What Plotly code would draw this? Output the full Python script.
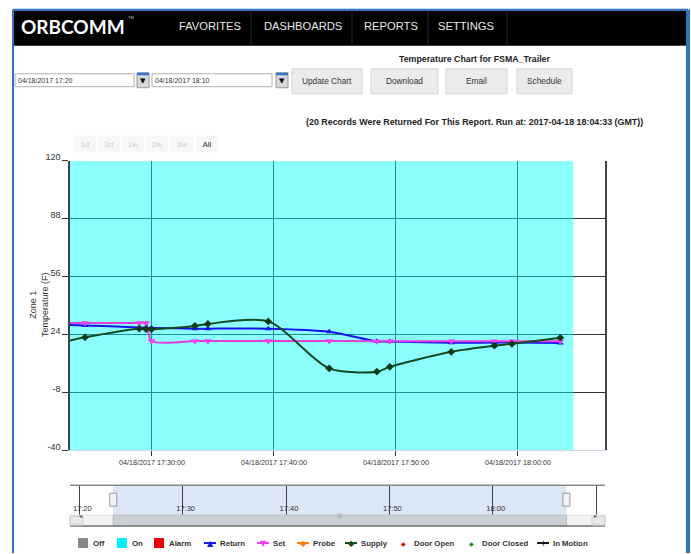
import plotly.graph_objects as go

W, H = 691, 554
# The photographed page is drawn 8 px lower and squeezed to 546 px tall;
# positions below are page pixels of the reference, mapped through this.
Y0, KY = 8, 546 / 554

# ---------------- data ----------------
times = ["2017-04-18 17:20:30", "2017-04-18 17:24:31", "2017-04-18 17:28:58",
         "2017-04-18 17:29:31", "2017-04-18 17:29:58", "2017-04-18 17:33:31",
         "2017-04-18 17:34:35", "2017-04-18 17:39:32", "2017-04-18 17:44:32",
         "2017-04-18 17:48:26", "2017-04-18 17:49:30", "2017-04-18 17:54:32",
         "2017-04-18 17:58:04", "2017-04-18 17:59:30", "2017-04-18 18:03:28"]
return_temp = [29.6, 29.1, 27.9, 27.8, 27.7, 27.3, 27.3, 27.3, 25.6, 20.3, 20.2, 19.5, 19.6, 19.6, 19.4]
set_temp = [30.4, 30.4, 30.4, 30.4, 20.5, 20.5, 20.5, 20.5, 20.5, 20.3, 20.3, 20.3, 20.3, 20.3, 20.3]
supply_temp = [16.5, 22.5, 27.3, 27.1, 26.9, 28.8, 29.9, 31.3, 5.3, 3.5, 6.2, 14.5, 17.9, 18.9, 22.3]

on_period = ["2017-04-18 17:20:30", "2017-04-18 18:04:33"]
view_range = ["2017-04-18 17:23:17", "2017-04-18 18:07:08"]
nav_range = ["2017-04-18 17:19:06", "2017-04-18 18:10:52"]
y_ticks = [-40, -8, 24, 56, 88, 120]
y_range = [-40, 120]

nav_items = ["FAVORITES", "DASHBOARDS", "REPORTS", "SETTINGS"]
button_labels = ["Update Chart", "Download", "Email", "Schedule"]
date_inputs = ["04/18/2017 17:20", "04/18/2017 18:10"]
range_buttons = ["1d", "2d", "1w", "2w", "3w", "All"]
legend_labels = ["Off", "On", "Alarm", "Return", "Set", "Probe", "Supply",
                 "Door Open", "Door Closed", "In Motion"]

chart_title = "Temperature Chart for FSMA_Trailer"
subtitle = "(20 Records Were Returned For This Report. Run at: 2017-04-18 18:04:33 (GMT))"

# ---------------- helpers ----------------
def px(x):
    return x / W

def py(y):
    return 1 - max(0.0, (y - Y0) / KY) / H

FONT = "Liberation Sans, Arial, sans-serif"

fig = go.Figure()

# "On" status band
fig.add_trace(go.Scatter(x=[on_period[0], on_period[1], on_period[1], on_period[0]],
                         y=[y_range[0], y_range[0], y_range[1], y_range[1]],
                         mode="none", fill="toself", fillcolor="rgba(0,255,255,0.45)",
                         name="On", hoverinfo="skip"))

fig.add_trace(go.Scatter(x=times, y=return_temp, name="Return", mode="lines+markers",
                         line=dict(color="#1414f0", width=2, shape="spline", smoothing=0.8),
                         marker=dict(symbol="triangle-up", size=6, color="#1414f0")))
fig.add_trace(go.Scatter(x=times, y=set_temp, name="Set", mode="lines+markers",
                         line=dict(color="#e03ee0", width=2, shape="spline", smoothing=0.8),
                         marker=dict(symbol="triangle-down", size=7, color="#f040f0")))
fig.add_trace(go.Scatter(x=times, y=supply_temp, name="Supply", mode="lines+markers",
                         line=dict(color="#134a22", width=2, shape="spline", smoothing=0.8),
                         marker=dict(symbol="diamond", size=6, color="#0d3a18")))

shapes = []
ann = []

# ---------------- page chrome ----------------
shapes.append(dict(type="rect", xref="paper", yref="paper", x0=px(14), x1=px(686),
                   y0=py(45), y1=py(9.5), fillcolor="#000", line=dict(width=0), layer="below"))
for xd in [251, 352, 428, 507]:
    shapes.append(dict(type="line", xref="paper", yref="paper", x0=px(xd), x1=px(xd),
                       y0=py(45), y1=py(9.5), line=dict(color="#2a2a2a", width=1)))
# blue window border
shapes.append(dict(type="line", xref="paper", yref="paper", x0=px(13), x1=px(13),
                   y0=0, y1=py(8.5), line=dict(color="#2f72c0", width=2)))
shapes.append(dict(type="line", xref="paper", yref="paper", x0=px(13), x1=px(688),
                   y0=py(8.8), y1=py(8.8), line=dict(color="#2f72c0", width=2)))
shapes.append(dict(type="line", xref="paper", yref="paper", x0=px(688), x1=px(688),
                   y0=0, y1=py(8.5), line=dict(color="#2f72c0", width=4)))

ann.append(dict(x=px(19), y=py(25.5), xref="paper", yref="paper", text="<b>ORBCOMM</b>",
                showarrow=False, xanchor="left", yanchor="middle",
                font=dict(family="Lato, Open Sans, sans-serif", size=19, color="#fff")))
ann.append(dict(x=px(126), y=py(17), xref="paper", yref="paper", text="TM",
                showarrow=False, xanchor="left", yanchor="middle",
                font=dict(family=FONT, size=4, color="#ccc")))
for label, cx in zip(nav_items, [210, 303, 391, 466]):
    ann.append(dict(x=px(cx), y=py(25.5), xref="paper", yref="paper", text=label,
                    showarrow=False, xanchor="center", yanchor="middle",
                    font=dict(family=FONT, size=11.2, color="#e8e8e8")))

ann.append(dict(x=px(474), y=py(58), xref="paper", yref="paper", text="<b>" + chart_title + "</b>",
                showarrow=False, xanchor="center", yanchor="middle",
                font=dict(family=FONT, size=8.8, color="#222")))

# date inputs
for label, (x0, x1), ix in zip(date_inputs, [(15, 134), (152, 272)], [137, 276]):
    shapes.append(dict(type="rect", xref="paper", yref="paper", x0=px(x0), x1=px(x1),
                       y0=py(86), y1=py(73), fillcolor="#fff", line=dict(color="#b0b0b0", width=1)))
    ann.append(dict(x=px(x0 + 1), y=py(79.5), xref="paper", yref="paper", text=label,
                    showarrow=False, xanchor="left", yanchor="middle",
                    font=dict(family=FONT, size=7, color="#333")))
    shapes.append(dict(type="rect", xref="paper", yref="paper", x0=px(ix), x1=px(ix + 12),
                       y0=py(87), y1=py(72), fillcolor="#d8d8d8", line=dict(color="#999", width=1)))
    shapes.append(dict(type="rect", xref="paper", yref="paper", x0=px(ix), x1=px(ix + 12),
                       y0=py(74.5), y1=py(72), fillcolor="#3a72d0", line=dict(width=0)))
    ann.append(dict(x=px(ix + 6), y=py(80.5), xref="paper", yref="paper", text="▼",
                    showarrow=False, xanchor="center", yanchor="middle",
                    font=dict(family="DejaVu Sans", size=7, color="#000")))

# buttons
for label, (x0, x1) in zip(button_labels, [(292, 362), (371, 438), (446, 507), (517, 572)]):
    shapes.append(dict(type="rect", xref="paper", yref="paper", x0=px(x0), x1=px(x1),
                       y0=py(93), y1=py(68), fillcolor="#ebebeb", line=dict(color="#d4d4d4", width=1)))
    ann.append(dict(x=px((x0 + x1) / 2), y=py(80.5), xref="paper", yref="paper", text=label,
                    showarrow=False, xanchor="center", yanchor="middle",
                    font=dict(family=FONT, size=8.3, color="#333")))

ann.append(dict(x=px(474), y=py(121), xref="paper", yref="paper", text="<b>" + subtitle + "</b>",
                showarrow=False, xanchor="center", yanchor="middle",
                font=dict(family=FONT, size=8.9, color="#222")))

# range selector buttons
for label, cx in zip(range_buttons, [85, 109, 133, 157, 182, 207]):
    ann.append(dict(x=px(cx), y=py(143), xref="paper", yref="paper", text=label,
                    showarrow=False, xanchor="center", yanchor="middle",
                    width=20, height=14, bgcolor="#f7f7f7",
                    font=dict(family=FONT, size=8,
                              color="#333" if label == "All" else "#cccccc")))

# y axis title
ann.append(dict(x=px(39), y=py(305), xref="paper", yref="paper",
                text="Zone 1<br>Temperature (F)", textangle=-90, showarrow=False,
                xanchor="center", yanchor="middle",
                font=dict(family=FONT, size=9, color="#333")))

# ---------------- navigator ----------------
nav_top, nav_bot, sb_bot = 486, 516, 527
shapes.append(dict(type="rect", xref="x2", yref="paper", x0=view_range[0], x1=view_range[1],
                   y0=py(nav_bot), y1=py(nav_top), fillcolor="#dbe6f6",
                   line=dict(width=0), layer="below"))
shapes.append(dict(type="line", xref="x2 domain", yref="paper", x0=0, x1=1,
                   y0=py(nav_top), y1=py(nav_top), line=dict(color="#888", width=1.5)))
shapes.append(dict(type="rect", xref="x2 domain", yref="paper", x0=0, x1=1,
                   y0=py(sb_bot), y1=py(nav_bot), fillcolor="#f2f2f2", line=dict(color="#e0e0e0", width=1)))
shapes.append(dict(type="rect", xref="x2", yref="paper", x0=view_range[0], x1=view_range[1],
                   y0=py(sb_bot), y1=py(nav_bot), fillcolor="#cbd0d6", line=dict(color="#b8bcc2", width=1)))
shapes.append(dict(type="line", xref="x2 domain", yref="paper", x0=0, x1=1,
                   y0=py(sb_bot), y1=py(sb_bot), line=dict(color="#777", width=1.5)))
for xa, sgn in [(0, 1), (1, -1)]:
    shapes.append(dict(type="rect", xref="x2 domain", yref="paper", xsizemode="pixel", xanchor=xa,
                       x0=0, x1=13 * sgn, y0=py(sb_bot - 1), y1=py(nav_bot + 1),
                       fillcolor="#e8e8e8", line=dict(color="#ccc", width=1)))
    ann.append(dict(x=xa, xref="x2 domain", y=py(521.5), yref="paper",
                    xshift=6.5 * sgn, text="◂" if sgn == 1 else "▸", showarrow=False,
                    font=dict(family="DejaVu Sans", size=6, color="#555")))
ann.append(dict(x=px((113 + 565) / 2), xref="paper", y=py(521.5), yref="paper", text="|||",
                showarrow=False, font=dict(family="DejaVu Sans", size=5, color="#888")))
for xv in view_range:
    shapes.append(dict(type="rect", xref="x2", yref="paper", xsizemode="pixel", xanchor=xv,
                       x0=-3.5, x1=3.5, y0=py(507), y1=py(494),
                       fillcolor="#f2f2f2", line=dict(color="#999", width=1)))

# ---------------- legend (drawn) ----------------
leg_y = 544
sq_items = {"Off": ("#888888", 78), "On": ("#00f0ff", 117), "Alarm": ("#ee0000", 154)}
line_items = {"Return": ("#1414f0", 204, "▲"), "Set": ("#f040f0", 257, "▼"),
              "Probe": ("#ff7f0e", 297, "◆"), "Supply": ("#134a22", 345, "◆"),
              "In Motion": ("#111111", 537, "+")}
dot_items = {"Door Open": ("#e00000", 403), "Door Closed": ("#1a8a1a", 471)}
for label in legend_labels:
    if label in sq_items:
        col, x0 = sq_items[label]
        shapes.append(dict(type="rect", xref="paper", yref="paper", x0=px(x0), x1=px(x0 + 10),
                           y0=py(leg_y + 5), y1=py(leg_y - 5), fillcolor=col, line=dict(width=0)))
        tx = x0 + 13
    elif label in line_items:
        col, x0, glyph = line_items[label]
        shapes.append(dict(type="line", xref="paper", yref="paper", x0=px(x0), x1=px(x0 + 12),
                           y0=py(leg_y), y1=py(leg_y), line=dict(color=col, width=2)))
        ann.append(dict(x=px(x0 + 6), y=py(leg_y), xref="paper", yref="paper", text=glyph,
                        showarrow=False, xanchor="center", yanchor="middle",
                        font=dict(family="DejaVu Sans", size=8, color=col)))
        tx = x0 + 14
    else:
        col, x0 = dot_items[label]
        ann.append(dict(x=px(x0), y=py(leg_y), xref="paper", yref="paper", text="◆",
                        showarrow=False, xanchor="center", yanchor="middle",
                        font=dict(family="DejaVu Sans", size=6, color=col)))
        tx = x0 + 9
    ann.append(dict(x=px(tx), y=py(leg_y), xref="paper", yref="paper", text="<b>" + label + "</b>",
                    showarrow=False, xanchor="left", yanchor="middle",
                    font=dict(family=FONT, size=7.8, color="#333")))

fig.update_layout(
    width=W, height=H, margin=dict(l=0, r=0, t=0, b=0),
    paper_bgcolor="#ffffff", plot_bgcolor="rgba(0,0,0,0)",
    showlegend=False, shapes=shapes, annotations=ann,
    font=dict(family=FONT, color="#333"),
    xaxis=dict(domain=[px(70), px(605)], anchor="y", type="date", range=view_range,
               tick0="2017-04-18 17:00:00", dtick=600000,
               tickformat="%m/%d/%Y %H:%M:%S", showgrid=True, gridcolor="#333", gridwidth=1,
               ticks="outside", ticklen=5, tickcolor="#333", showline=True,
               linecolor="#ccd6eb", linewidth=1, tickfont=dict(size=7.2, color="#333"),
               zeroline=False),
    yaxis=dict(domain=[py(451), py(160.5)], anchor="x", range=y_range, tickvals=y_ticks,
               ticktext=[str(v) for v in y_ticks],
               showgrid=True, gridcolor="#333", gridwidth=1, ticks="outside", ticklen=6,
               tickcolor="#333", showline=True, mirror=True, linecolor="#444", linewidth=1.5,
               tickfont=dict(size=9, color="#333"), zeroline=False, ticklabelshift=-4),
    xaxis2=dict(domain=[px(70), px(605)], anchor="y2", type="date", range=nav_range,
                tick0="2017-04-18 17:00:00", dtick=600000, tickformat="%H:%M",
                showgrid=True, gridcolor="#444", gridwidth=1, ticks="",
                ticklabelposition="inside", ticklabelshift=3, showline=False, zeroline=False,
                tickfont=dict(size=7.5, color="#333")),
    yaxis2=dict(domain=[py(nav_bot), py(nav_top)], anchor="x2", range=[0, 1], visible=False),
)

pin_page = ("var d=document.documentElement,b=document.body,g=document.getElementById('{plot_id}');"
            "d.style.margin='0';b.style.margin='0';d.style.overflow='hidden';b.style.overflow='hidden';"
            "g.style.position='fixed';g.style.left='0px';g.style.top='0px';window.scrollTo(0,0);")
fig.write_html("out.html", config={"displayModeBar": False}, post_script=pin_page)
